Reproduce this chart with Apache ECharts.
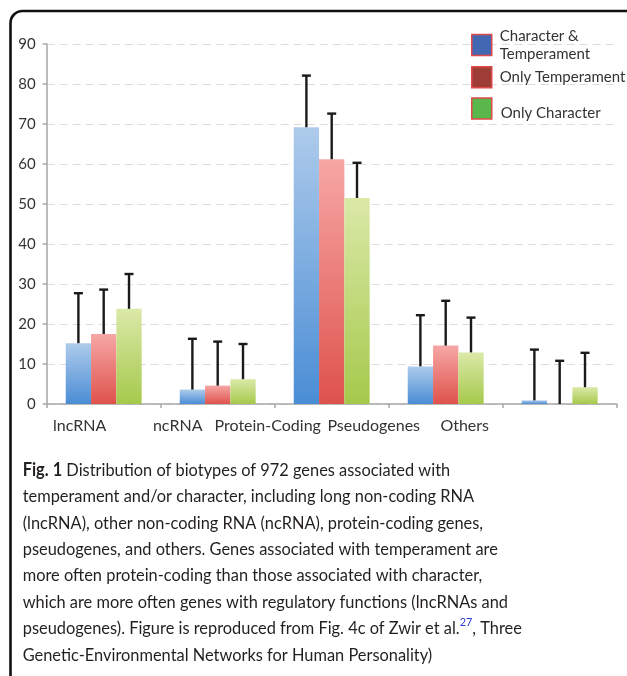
<!DOCTYPE html>
<html>
<head>
<meta charset="utf-8">
<script src="https://cdn.jsdelivr.net/npm/echarts@6/dist/echarts.min.js"></script>
<style>
html,body{margin:0;padding:0;background:#fff;}
#chart{width:627px;height:676px;}
</style>
</head>
<body>
<div id="chart"></div>
<script>
// ---- data ----
const categories = ['lncRNA', 'ncRNA', 'Protein-Coding', 'Pseudogenes', 'Others'];
const seriesNames = ['Character & Temperament', 'Only Temperament', 'Only Character'];
const charTempValues = [15.2, 3.6, 69.2, 9.4, 0.9];
const charTempErrors = [12.5, 12.7, 12.9, 12.8, 12.7];
const onlyTempValues = [17.5, 4.6, 61.2, 14.6, 0];
const onlyTempErrors = [11.1, 11.0, 11.4, 11.2, 10.8];
const onlyCharValues = [23.8, 6.2, 51.5, 12.9, 4.2];
const onlyCharErrors = [8.7, 8.8, 8.8, 8.7, 8.6];
const yTicks = { min: 0, max: 90, interval: 10 };
const captionLines = [
  '{b|Fig. 1} Distribution of biotypes of 972 genes associated with',
  'temperament and/or character, including long non-coding RNA',
  '(lncRNA), other non-coding RNA (ncRNA), protein-coding genes,',
  'pseudogenes, and others. Genes associated with temperament are',
  'more often protein-coding than those associated with character,',
  'which are more often genes with regulatory functions (lncRNAs and',
  'pseudogenes). Figure is reproduced from Fig. 4c of Zwir et al.{s|27}, Three',
  'Genetic-Environmental Networks for Human Personality)'
];

// ---- styling ----
const labelShift = [24, 40, 64, 72, 95];
const barFrac = 0.222;
const gradients = [
  ['#aecbeb', '#4a8dd5'],
  ['#f6a7a5', '#df524c'],
  ['#dbe9a8', '#a5c94c']
];
const legendColors = ['#4467b1', '#9e3c36', '#5ab74b'];
const FONT = 'Lato';

const values = [charTempValues, onlyTempValues, onlyCharValues];
const errors = [charTempErrors, onlyTempErrors, onlyCharErrors];

const chart = echarts.init(document.getElementById('chart'), null, { renderer: 'canvas' });

const series = [];
values.forEach((vals, si) => {
  series.push({
    name: seriesNames[si],
    type: 'bar',
    barWidth: (barFrac * 100) + '%',
    barGap: '0%',
    data: vals,
    itemStyle: {
      color: new echarts.graphic.LinearGradient(0, 0, 0, 1, [
        { offset: 0, color: gradients[si][0] },
        { offset: 1, color: gradients[si][1] }
      ])
    },
    z: 2
  });
});
values.forEach((vals, si) => {
  const off = si - 1;
  series.push({
    name: 'err' + si,
    type: 'custom',
    data: vals.map((v, i) => [i, v, errors[si][i]]),
    encode: { x: 0, y: 1 },
    z: 5,
    renderItem: function (params, api) {
      const ci = api.value(0), v = api.value(1), e = api.value(2);
      const base = api.coord([ci, v]);
      const top = api.coord([ci, v + e]);
      const bw = api.size([1, 0])[0];
      const x = base[0] + off * bw * barFrac;
      const st = { stroke: '#1a1a1a', lineWidth: 2.4 };
      return {
        type: 'group',
        children: [
          { type: 'line', shape: { x1: x, y1: base[1], x2: x, y2: top[1] }, style: st },
          { type: 'line', shape: { x1: x - 4.5, y1: top[1], x2: x + 4.5, y2: top[1] }, style: st }
        ]
      };
    }
  });
});

// caption scaling to match a condensed typeface
const targetWidths = [431, 457, 459, 478, 464, 490, 493, 402];
const mctx = document.createElement('canvas').getContext('2d');
let sumM = 0, sumT = 0;
captionLines.forEach((l, i) => {
  const plain = l.replace(/\{b\|([^}]*)\}/g, '$1').replace(/\{s\|([^}]*)\}/g, '$1');
  mctx.font = '18px ' + FONT;
  sumM += mctx.measureText(plain).width;
  sumT += targetWidths[i];
});
const capScale = sumT / sumM;

const captionGraphics = captionLines.map((l, i) => ({
  type: 'text',
  x: 22.7,
  y: 470 + i * 26.4,
  scaleX: capScale,
  style: {
    text: l,
    fontSize: 18,
    fontFamily: FONT,
    fill: '#231f20',
    verticalAlign: 'middle',
    align: 'left',
    rich: {
      b: { fontWeight: 'bold', fontSize: 18, fontFamily: FONT, fill: '#231f20' },
      s: { fontSize: 12, fontFamily: FONT, fill: '#2b3ed6', padding: [0, 0, 12, 0] }
    }
  }
}));

const legendText = { fontFamily: FONT, fontSize: 15, color: '#333', lineHeight: 18, padding: [0, 0, 0, 3] };
const legendBase = {
  orient: 'vertical',
  padding: 0,
  itemWidth: 20,
  itemHeight: 21,
  icon: 'rect',
  selectedMode: false,
  textStyle: legendText
};
function legendItem(si) {
  return { name: seriesNames[si], itemStyle: { color: legendColors[si], borderColor: '#e04a4a', borderWidth: 1.5 } };
}

const option = {
  backgroundColor: '#fff',
  animation: false,
  grid: { left: 46.7, right: 10.3, top: 44, bottom: 272, containLabel: false },
  legend: [
    Object.assign({}, legendBase, { left: 471, top: 27, data: [legendItem(0)], formatter: 'Character &\nTemperament' }),
    Object.assign({}, legendBase, { left: 471, top: 66, data: [legendItem(1)] }),
    Object.assign({}, legendBase, { left: 471, top: 96, data: [legendItem(2)],
      formatter: '{d|Only Character}',
      textStyle: Object.assign({}, legendText, {
        rich: { d: { fontFamily: FONT, fontSize: 15, color: '#333', lineHeight: 18, padding: [10, 0, 0, 1] } }
      }) })
  ],
  xAxis: {
    type: 'category',
    data: categories.map((c, i) => ({ value: c, textStyle: { padding: [0, labelShift[i] * 2, 0, 0] } })),
    axisLine: { lineStyle: { color: '#a6a6a6', width: 1.5 } },
    axisTick: { show: true, length: 4, lineStyle: { color: '#a6a6a6', width: 1.5 } },
    axisLabel: { fontFamily: FONT, fontSize: 16, color: '#333', margin: 14, interval: 0, hideOverlap: false },
    splitLine: { show: false }
  },
  yAxis: {
    type: 'value',
    min: yTicks.min, max: yTicks.max, interval: yTicks.interval,
    axisLine: { show: true, lineStyle: { color: '#a6a6a6', width: 1.5 } },
    axisTick: { show: true, length: 4, lineStyle: { color: '#a6a6a6', width: 1.5 } },
    axisLabel: { fontFamily: FONT, fontSize: 15, color: '#333', margin: 11 },
    splitLine: { show: true, lineStyle: { color: '#dcdcdc', type: [8, 5], width: 1.2 } }
  },
  series: series,
  graphic: [
    {
      type: 'rect',
      shape: { x: 10.5, y: 11, width: 700, height: 700, r: 12 },
      style: { fill: 'none', stroke: '#111', lineWidth: 2.6 },
      silent: true
    }
  ].concat(captionGraphics)
};
chart.setOption(option);
</script>
</body>
</html>
